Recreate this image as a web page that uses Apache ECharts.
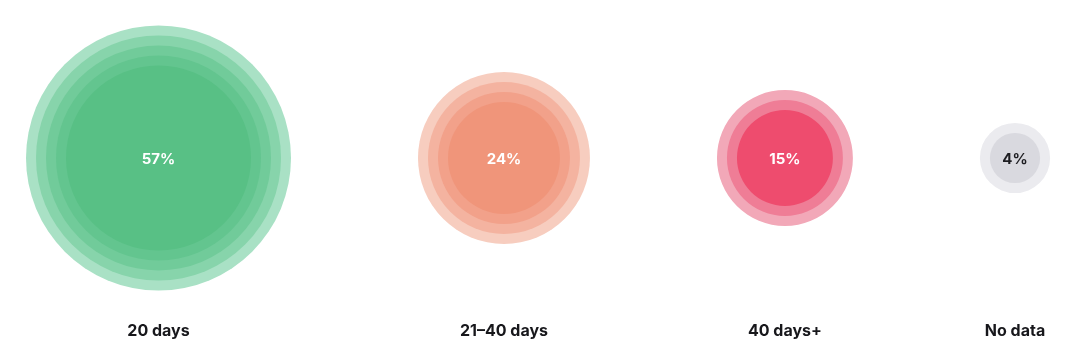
<!DOCTYPE html>
<html>
<head>
<meta charset="utf-8">
<style>
  html, body { margin: 0; padding: 0; background: #ffffff; }
  #chart { width: 1081px; height: 358px; }
</style>
<script src="https://cdn.jsdelivr.net/npm/echarts@6/dist/echarts.min.js"></script>
</head>
<body>
<div id="chart"></div>
<script>
// ---- data ----
const categories = ['20 days', '21–40 days', '40 days+', 'No data'];
const values = [57, 24, 15, 4];          // percent
const layerCounts = [5, 4, 3, 2];        // number of concentric halo circles

// ---- styles ----
const layerColors = [
  ['#a9e1c5', '#87d4ab', '#71cb9a', '#63c58f', '#58c085'],
  ['#f7cdbf', '#f4b3a0', '#f2a18a', '#f0957a'],
  ['#f2a8b8', '#ef7d96', '#ee4c6e'],
  ['#ebebef', '#d9d9df']
];
const valueTextColors = ['#ffffff', '#ffffff', '#ffffff', '#1d1d21'];
const FONT = 'Inter, "Noto Sans", sans-serif';
const PX_PER_UNIT = 17.55;     // pixels per sqrt-unit of radius
const LEFT_PAD = 26 / PX_PER_UNIT;
const GAP = 127 / PX_PER_UNIT;
const RING_STEP = 10;          // px between concentric circles
const LABEL_OFFSET = 173;      // px below circle centre

// packed layout: radius ∝ sqrt(value), circles placed side by side with a constant gap
const radii = values.map(v => Math.sqrt(v));
const centers = [];
let cursor = LEFT_PAD;
radii.forEach(r => { centers.push(cursor + r); cursor += 2 * r + GAP; });

const seriesData = categories.map((c, i) => [centers[i], radii[i], values[i]]);

const chart = echarts.init(document.getElementById('chart'), null, { renderer: 'canvas' });
chart.setOption({
  animation: false,
  grid: { left: 0, right: 0, top: 0, height: 316 },
  xAxis: { type: 'value', min: 0, max: 1081 / PX_PER_UNIT, show: false },
  yAxis: { type: 'value', min: -1, max: 1, show: false },
  series: [{
    type: 'custom',
    data: seriesData,
    renderItem: function (params, api) {
      const i = params.dataIndex;
      const c = api.coord([api.value(0), 0]);
      const rp = api.size([api.value(1), 0])[0];
      const children = [];
      for (let j = 0; j < layerCounts[i]; j++) {
        children.push({
          type: 'circle',
          shape: { cx: c[0], cy: c[1], r: rp - j * RING_STEP },
          style: { fill: layerColors[i][j] }
        });
      }
      children.push({
        type: 'text',
        style: {
          text: api.value(2) + '%',
          x: c[0], y: c[1] + 1,
          align: 'center', verticalAlign: 'middle',
          fill: valueTextColors[i],
          font: '700 15px ' + FONT
        }
      });
      children.push({
        type: 'text',
        style: {
          text: categories[i],
          x: c[0], y: c[1] + LABEL_OFFSET,
          align: 'center', verticalAlign: 'middle',
          fill: '#17171b',
          font: '700 16px ' + FONT
        }
      });
      return { type: 'group', children: children };
    }
  }]
});
</script>
</body>
</html>
